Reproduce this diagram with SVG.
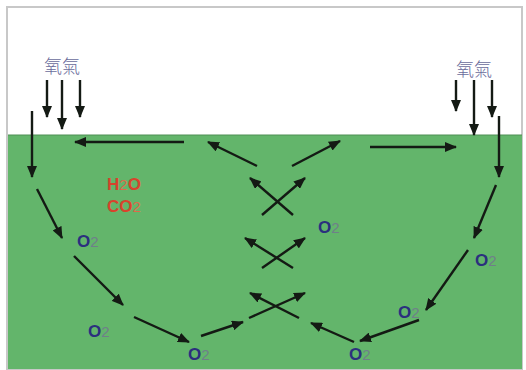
<svg xmlns="http://www.w3.org/2000/svg" width="526" height="370" viewBox="0 0 526 370">
<style>
.a{stroke:#141a14;stroke-width:2.4;fill:none;marker-end:url(#ah)}
.ox{font-family:"Liberation Sans",Arial,sans-serif;font-size:17px}
.O{font-weight:bold;fill:#2b2f7e}
.two{fill:#6f7f8a;font-size:15px}
.red{font-family:"Liberation Sans",Arial,sans-serif;font-size:17px;fill:#d8432c}
.red .b{font-weight:bold}
.red .s{font-size:15px;fill:#dd6a4a}
.cjk{font-family:"Noto Sans CJK TC","Noto Sans CJK SC",serif;font-size:18px;fill:#6a6c9c;font-weight:300}
</style>
<defs>
<marker id="ah" markerUnits="userSpaceOnUse" markerWidth="12" markerHeight="10" refX="11" refY="5" orient="auto">
<path d="M0,0 L12,5 L0,10 z" fill="#141a14"/>
</marker>
</defs>
<g id="background">
<rect x="7" y="7" width="515" height="362" fill="#ffffff" stroke="#c8c8c8" stroke-width="2"/>
<rect x="8" y="135" width="514" height="234" fill="#63b56b"/>
<line x1="8" y1="135" x2="522" y2="135" stroke="#4f8f55" stroke-width="1"/>
</g>
<g id="oxygen-left"><text class="cjk" x="44" y="73">氧氣</text></g>
<g id="oxygen-right"><text class="cjk" x="456" y="76">氧氣</text></g>
<g id="h2o-co2">
<text class="red" x="107" y="190"><tspan class="b">H</tspan><tspan class="s">2</tspan><tspan class="b">O</tspan></text>
<text class="red" x="107" y="212"><tspan class="b">CO</tspan><tspan class="s">2</tspan></text>
</g>
<g id="o2-1"><text class="ox" x="77" y="247"><tspan class="O">O</tspan><tspan class="two">2</tspan></text></g>
<g id="o2-2"><text class="ox" x="88" y="337"><tspan class="O">O</tspan><tspan class="two">2</tspan></text></g>
<g id="o2-3"><text class="ox" x="188" y="360"><tspan class="O">O</tspan><tspan class="two">2</tspan></text></g>
<g id="o2-4"><text class="ox" x="318" y="233"><tspan class="O">O</tspan><tspan class="two">2</tspan></text></g>
<g id="o2-5"><text class="ox" x="475" y="266"><tspan class="O">O</tspan><tspan class="two">2</tspan></text></g>
<g id="o2-6"><text class="ox" x="398" y="318"><tspan class="O">O</tspan><tspan class="two">2</tspan></text></g>
<g id="o2-7"><text class="ox" x="349" y="360"><tspan class="O">O</tspan><tspan class="two">2</tspan></text></g>
<g id="connectors">
<line class="a" x1="47" y1="80" x2="47" y2="117"/>
<line class="a" x1="62" y1="80" x2="62" y2="129"/>
<line class="a" x1="80" y1="80" x2="80" y2="117"/>
<line class="a" x1="32" y1="111" x2="32" y2="177"/>
<line class="a" x1="184" y1="142" x2="75" y2="142"/>
<line class="a" x1="257" y1="166" x2="208" y2="142"/>
<line class="a" x1="292" y1="166" x2="340" y2="141"/>
<line class="a" x1="370" y1="147" x2="456" y2="147"/>
<line class="a" x1="456" y1="80" x2="456" y2="111"/>
<line class="a" x1="474" y1="80" x2="474" y2="135"/>
<line class="a" x1="492" y1="80" x2="492" y2="117"/>
<line class="a" x1="499" y1="116" x2="499" y2="177"/>
<line class="a" x1="37" y1="189" x2="62" y2="238"/>
<line class="a" x1="74" y1="256" x2="123" y2="305"/>
<line class="a" x1="134" y1="317" x2="189" y2="342"/>
<line class="a" x1="201" y1="336" x2="243" y2="322"/>
<line class="a" x1="262" y1="215" x2="305" y2="178"/>
<line class="a" x1="293" y1="215" x2="250" y2="178"/>
<line class="a" x1="262" y1="268" x2="305" y2="238"/>
<line class="a" x1="293" y1="268" x2="245" y2="238"/>
<line class="a" x1="249" y1="318" x2="305" y2="293"/>
<line class="a" x1="299" y1="318" x2="250" y2="293"/>
<line class="a" x1="496" y1="185" x2="474" y2="238"/>
<line class="a" x1="468" y1="250" x2="426" y2="310"/>
<line class="a" x1="419" y1="320" x2="360" y2="341"/>
<line class="a" x1="354" y1="342" x2="311" y2="323"/>
</g>
</svg>
